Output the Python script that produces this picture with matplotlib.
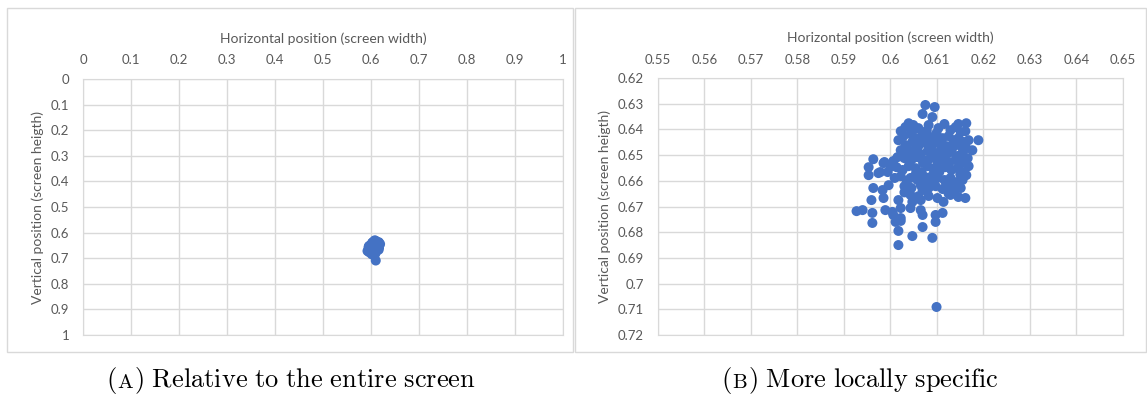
import numpy as np
import matplotlib.pyplot as plt
from matplotlib.patches import Rectangle
from matplotlib.offsetbox import TextArea, HPacker, AnnotationBbox

plt.rcParams['mathtext.fontset'] = 'cm'

# gaze points, horizontal (screen width) and vertical (screen height)
pos_x = [0.6075, 0.6095, 0.6069, 0.6090,
         0.6116, 0.6146, 0.6163, 0.6161, 0.6189, 0.6176, 0.6039, 0.6022, 0.6017, 0.6049, 0.6060,
         0.6032, 0.6082, 0.6103, 0.6129, 0.6140, 0.6151,
         0.6028, 0.6043, 0.6056, 0.6069, 0.6086, 0.6099, 0.6112, 0.6125, 0.6135, 0.6146, 0.6157,
         0.6168, 0.6032, 0.6047, 0.6060, 0.6075, 0.6090, 0.6108, 0.6120, 0.6133, 0.6151, 0.6163,
         0.6022, 0.6037, 0.6052, 0.6065, 0.6080, 0.6095, 0.6108, 0.6118, 0.6129, 0.6142, 0.6155,
         0.6166, 0.5963, 0.5987, 0.6006, 0.6015, 0.6030, 0.6045, 0.6058, 0.6071, 0.6086, 0.6101,
         0.6114, 0.6127, 0.6140, 0.6153, 0.6168,
         0.5953, 0.5978, 0.5985, 0.5994, 0.5953, 0.5974, 0.6013, 0.6026, 0.6039, 0.6054, 0.6067,
         0.6080, 0.6092, 0.6105, 0.6118, 0.6131, 0.6144, 0.6157, 0.6163, 0.6009, 0.6022, 0.6043,
         0.6058, 0.6075, 0.6088, 0.6101, 0.6116, 0.6129, 0.6142, 0.6155,
         0.5963, 0.5983, 0.5996, 0.6030, 0.6045, 0.6065, 0.6082, 0.6097, 0.6112, 0.6125, 0.6138,
         0.6151, 0.5959, 0.5985, 0.6017, 0.6043, 0.6065, 0.6047, 0.6082, 0.6101, 0.6114, 0.6129,
         0.6146, 0.6161, 0.6069,
         0.5927, 0.5940, 0.5961, 0.5989, 0.6006, 0.6022, 0.6043, 0.6065, 0.6069, 0.6097, 0.6112,
         0.6004, 0.6022,
         0.5961, 0.6022, 0.6011, 0.6017, 0.6069, 0.6047, 0.6090, 0.6017, 0.6097,
         0.6099,
         0.6050, 0.6078, 0.6100, 0.6140, 0.6062, 0.6035, 0.6085, 0.6110, 0.6150, 0.6040,
         0.6070, 0.6100, 0.6125, 0.6150, 0.6055, 0.6090, 0.6120, 0.6035, 0.6075, 0.6000,
         0.6110, 0.6160, 0.6030, 0.6060, 0.6125]
pos_y = [0.6305, 0.6313, 0.6340, 0.6352,
         0.6379, 0.6379, 0.6376, 0.6407, 0.6442, 0.6481, 0.6376, 0.6407, 0.6442, 0.6383, 0.6395,
         0.6391, 0.6383, 0.6395, 0.6403, 0.6391, 0.6411,
         0.6426, 0.6418, 0.6434, 0.6422, 0.6430, 0.6414, 0.6434, 0.6426, 0.6442, 0.6434, 0.6449,
         0.6442, 0.6461, 0.6449, 0.6465, 0.6453, 0.6461, 0.6453, 0.6465, 0.6473, 0.6465, 0.6473,
         0.6481, 0.6488, 0.6481, 0.6496, 0.6484, 0.6492, 0.6481, 0.6500, 0.6488, 0.6504, 0.6492,
         0.6512, 0.6516, 0.6527, 0.6523, 0.6508, 0.6512, 0.6519, 0.6508, 0.6519, 0.6512, 0.6523,
         0.6519, 0.6527, 0.6519, 0.6531, 0.6543,
         0.6547, 0.6566, 0.6531, 0.6566, 0.6578, 0.6570, 0.6547, 0.6558, 0.6543, 0.6551, 0.6566,
         0.6543, 0.6554, 0.6566, 0.6547, 0.6558, 0.6551, 0.6566, 0.6578, 0.6589, 0.6582, 0.6589,
         0.6597, 0.6586, 0.6601, 0.6589, 0.6597, 0.6589, 0.6605, 0.6597,
         0.6628, 0.6636, 0.6617, 0.6621, 0.6628, 0.6617, 0.6628, 0.6621, 0.6632, 0.6617, 0.6636,
         0.6628, 0.6675, 0.6667, 0.6675, 0.6655, 0.6675, 0.6682, 0.6659, 0.6667, 0.6682, 0.6655,
         0.6663, 0.6667, 0.6636,
         0.6718, 0.6714, 0.6725, 0.6714, 0.6733, 0.6706, 0.6706, 0.6714, 0.6733, 0.6733, 0.6725,
         0.6721, 0.6745,
         0.6764, 0.6756, 0.6760, 0.6795, 0.6780, 0.6815, 0.6822, 0.6850, 0.6760,
         0.7091,
         0.6400, 0.6405, 0.6440, 0.6455, 0.6445, 0.6470, 0.6470, 0.6495, 0.6500, 0.6500,
         0.6530, 0.6540, 0.6545, 0.6575, 0.6570, 0.6580, 0.6610, 0.6600, 0.6610, 0.6545,
         0.6470, 0.6525, 0.6645, 0.6660, 0.6650]

ticks_a = [0, 0.1, 0.2, 0.3, 0.4, 0.5, 0.6, 0.7, 0.8, 0.9, 1]
labels_a = ['0', '0.1', '0.2', '0.3', '0.4', '0.5', '0.6', '0.7', '0.8', '0.9', '1']
ticks_bx = [0.55, 0.56, 0.57, 0.58, 0.59, 0.6, 0.61, 0.62, 0.63, 0.64, 0.65]
labels_bx = ['0.55', '0.56', '0.57', '0.58', '0.59', '0.6', '0.61', '0.62', '0.63', '0.64', '0.65']
ticks_by = [0.62, 0.63, 0.64, 0.65, 0.66, 0.67, 0.68, 0.69, 0.7, 0.71, 0.72]
labels_by = ['0.62', '0.63', '0.64', '0.65', '0.66', '0.67', '0.68', '0.69', '0.7', '0.71', '0.72']

blue = '#4472C4'
grid = '#d9d9d9'
txt = '#595959'
font = 'Lato'

fig = plt.figure(figsize=(11.47, 4.0), dpi=100)

# chart borders like the Excel chart areas
fig.patches.append(Rectangle((7 / 1147, 1 - 352 / 400), 566 / 1147, 344 / 400,
                             transform=fig.transFigure, fill=False, ec=grid, lw=1))
fig.patches.append(Rectangle((575 / 1147, 1 - 352 / 400), 571 / 1147, 344 / 400,
                             transform=fig.transFigure, fill=False, ec=grid, lw=1))

ax1 = fig.add_axes([83 / 1147, 1 - 335 / 400, 480 / 1147, 256 / 400])
ax2 = fig.add_axes([658 / 1147, 1 - 335 / 400, 465 / 1147, 257 / 400])

setups = [(ax1, ticks_a, labels_a, ticks_a, labels_a),
          (ax2, ticks_bx, labels_bx, ticks_by, labels_by)]

for ax, xt, xl, yt, yl in setups:
    ax.scatter(pos_x, pos_y, s=52, color=blue, edgecolors='none', zorder=3)
    ax.set_xlim(xt[0], xt[-1])
    ax.set_ylim(yt[-1], yt[0])
    ax.xaxis.tick_top()
    ax.xaxis.set_label_position('top')
    ax.set_xticks(xt)
    ax.set_xticklabels(xl, fontsize=9.5, color=txt, family=font)
    ax.set_yticks(yt)
    ax.set_yticklabels(yl, fontsize=9.5, color=txt, family=font)
    ax.tick_params(axis='x', length=0, pad=9)
    ax.tick_params(axis='y', length=0, pad=10)
    ax.grid(True, color=grid, lw=1)
    ax.set_axisbelow(True)
    for sp in ax.spines.values():
        sp.set_color(grid)
    ax.set_xlabel('Horizontal position (screen width)', fontsize=10, color=txt,
                  family=font, labelpad=8)
    ax.set_ylabel('Vertical position (screen heigth)', fontsize=10, color=txt,
                  family=font, labelpad=5)


# captions with a small-caps panel letter
def caption(letter, rest, xpix):
    big = dict(fontsize=19)
    small = dict(fontsize=15)
    box = HPacker(children=[TextArea(r'$\mathrm{(}$', textprops=big),
                            TextArea(r'$\mathrm{' + letter + '}$', textprops=small),
                            TextArea(r'$\mathrm{)\ ' + rest.replace(' ', r'\ ') + '}$',
                                     textprops=big)],
                  align='baseline', pad=0, sep=0)
    ab = AnnotationBbox(box, (xpix / 1147, 1 - 381 / 400), xycoords='figure fraction',
                        frameon=False, box_alignment=(0.5, 0.5))
    fig.add_artist(ab)


caption('A', 'Relative to the entire screen', 291)
caption('B', 'More locally specific', 860)

fig.savefig('out.png', dpi=100)
